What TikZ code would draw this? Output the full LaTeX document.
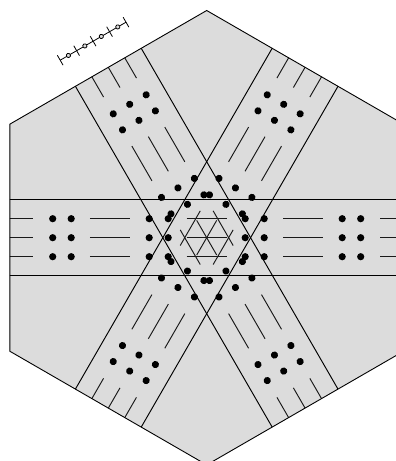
\documentclass[tikz,border=0pt]{standalone}
\tikzset{
  hexcell/.style={fill=hexgray,draw=black,line width=0.9pt,line join=miter},
  bandline/.style={draw=black,line width=0.95pt},
  dashmark/.style={draw=black!90,line width=0.95pt},
  bead/.style={fill=black},
  scaleline/.style={draw=black,line width=0.8pt},
  scalebead/.style={draw=black,line width=0.8pt,fill=hexgray}
}
\definecolor{hexgray}{gray}{0.863}
\begin{document}
\begin{tikzpicture}[x=1pt,y=1pt]
\useasboundingbox (-206.7,-223.3) rectangle (189.3,237.7);
\clip (-206.7,-223.3) rectangle (189.3,237.7);
% hexagon fill
\path[fill=hexgray] (90:227.2) -- (150:227.2) -- (210:227.2) -- (270:227.2) -- (330:227.2) -- (30:227.2) -- cycle;
\begin{scope}
  \clip (90:227.2) -- (150:227.2) -- (210:227.2) -- (270:227.2) -- (330:227.2) -- (30:227.2) -- cycle;
  \foreach \a in {0,60,120} {
    \begin{scope}[rotate=\a]
      \foreach \w in {-38,38}
        \draw[bandline] (-240,\w) -- (240,\w);
      \foreach \w in {-19,0,19}
        \foreach \c in {-193.4,-96.7,0,96.7,193.4}
          \draw[dashmark] (\c-20,\w) -- (\c+20,\w);
      \foreach \w in {-19,0,19}
        \foreach \d in {-154,-135.5,-57.5,-38.5,38.5,57.5,135.5,154}
          \fill[bead] (\d,\w) circle (3.6);
    \end{scope}
  }
\end{scope}
% hexagon outline
\draw[hexcell,fill=none] (90:227.2) -- (150:227.2) -- (210:227.2) -- (270:227.2) -- (330:227.2) -- (30:227.2) -- cycle;
% scale bar
\begin{scope}[shift={(-146.5,177.5)},rotate=30]
  \draw[scaleline] (0,0) -- (76,0);
  \foreach \k in {0,1,2,3,4}
    \draw[scaleline] (19*\k,-5.7) -- (19*\k,5.7);
  \foreach \k in {0,1,2,3}
    \draw[scalebead] (19*\k+9.5,0) circle (2.1);
\end{scope}
\end{tikzpicture}
\end{document}
